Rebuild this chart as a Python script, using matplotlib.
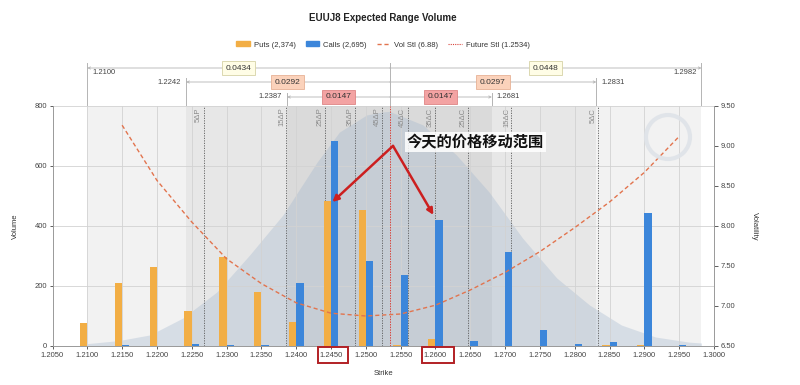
import numpy as np
import matplotlib.pyplot as plt
from matplotlib.lines import Line2D
from matplotlib.patches import Patch, Rectangle, Circle

plt.rcParams['font.family'] = ['Liberation Sans', 'DejaVu Sans']

# strikes and volumes
strikes = [1.2100, 1.2150, 1.2200, 1.2250, 1.2300, 1.2350, 1.2400, 1.2450, 1.2500,
           1.2550, 1.2600, 1.2650, 1.2700, 1.2750, 1.2800, 1.2850, 1.2900, 1.2950]
puts = [77, 209, 264, 117, 296, 179, 79, 484, 455, 3, 22, 0, 0, 0, 0, 2, 2, 0]
calls = [0, 5, 0, 6, 3, 5, 211, 683, 283, 237, 420, 16, 312, 53, 6, 15, 442, 3]
puts_total = 2374
calls_total = 2695

# settlement volatility per strike (right axis)
vol_strikes = strikes[1:]
vol_stl = [9.26, 8.57, 8.05, 7.59, 7.28, 7.04, 6.91, 6.875, 6.90, 7.01, 7.20,
           7.42, 7.68, 7.98, 8.30, 8.67, 9.12]
vol_stl_atm = 6.88

future_stl = 1.2534

# expected range distribution (shaded bell)
bell_x = [1.2100, 1.2145, 1.2190, 1.2237, 1.2286, 1.2333, 1.2381, 1.2430, 1.2462,
          1.2501, 1.2524, 1.2534, 1.2582, 1.2630, 1.2677, 1.2725, 1.2774, 1.2821,
          1.2867, 1.2916, 1.2964, 1.2982]
bell_y = [8, 18, 37, 93, 180, 303, 437, 613, 713, 770, 780, 782, 737, 637, 513,
          360, 227, 137, 70, 30, 13, 10]

# expected range bounds (3 levels)
range_low = [1.2100, 1.2242, 1.2387]
range_high = [1.2982, 1.2831, 1.2681]
range_down = ['0.0434', '0.0292', '0.0147']
range_up = ['0.0448', '0.0297', '0.0147']

# delta strikes
delta_x = [1.2267, 1.2386, 1.2442, 1.2485, 1.2523, 1.2560, 1.2599, 1.2646, 1.2709, 1.2833]
delta_lbl = ['5ΔP', '15ΔP', '25ΔP', '35ΔP', '45ΔP', '45ΔC', '35ΔC', '25ΔC', '15ΔC', '5ΔC']

put_col = '#F2AE45'
call_col = '#3C86DA'
vol_col = '#E2744E'
fut_col = '#D8443C'

fig = plt.figure(figsize=(8, 3.85), dpi=100)
L, W = 52.5 / 800, (714 - 52.5) / 800
ax = fig.add_axes([L, 39 / 385, W, 240 / 385])
ax.set_xlim(1.2050, 1.3000)
ax.set_ylim(0, 800)

# range bands
band_cols = ['#f2f2f2', '#e7e7e7', '#dadada']
for lo, hi, c in zip(range_low, range_high, band_cols):
    ax.axvspan(lo, hi, color=c, zorder=0, lw=0)

ax.fill_between(bell_x, 0, bell_y, color='#9db3cc', alpha=0.32, lw=0, zorder=1)

xticks = np.round(np.arange(1.2050, 1.30001, 0.005), 4)
for xt in xticks[1:-1]:
    ax.axvline(xt, color='#d2d2d2', lw=0.6, zorder=1.2)
for yt in [200, 400, 600, 800]:
    ax.axhline(yt, color='#d2d2d2', lw=0.6, zorder=1.2)

for dx, dl in zip(delta_x, delta_lbl):
    ax.axvline(dx, color='#5a5a5a', lw=0.6, ls=(0, (1.5, 1.5)), zorder=1.5)
    ax.text(dx - 0.0002, 0.993, dl, rotation=90, ha='right', va='top', fontsize=5.5,
            color='#8a8a8a', transform=ax.get_xaxis_transform(), zorder=2)
ax.axvline(future_stl, color=fut_col, lw=0.7, ls=(0, (1.5, 1.2)), zorder=1.6)

bw = 0.00105
ax.bar(np.array(strikes) - bw, puts, width=bw, align='edge', color=put_col, zorder=3)
ax.bar(strikes, calls, width=bw, align='edge', color=call_col, zorder=3)

ax.set_xticks(xticks)
ax.set_xticklabels([f'{v:.4f}' for v in xticks])
ax.set_yticks([0, 200, 400, 600, 800])
ax.tick_params(labelsize=5.5, colors='#444444', length=2, pad=2, width=0.6)
for s in ['top', 'right']:
    ax.spines[s].set_visible(False)
for s in ['left', 'bottom']:
    ax.spines[s].set_color('#999999')
    ax.spines[s].set_linewidth(0.7)
ax.set_xlabel('Strike', fontsize=5.5, color='#333333', labelpad=8)
ax.set_ylabel('Volume', fontsize=5.5, color='#333333', labelpad=11)

# highlighted strikes
for cx0, cx1 in [(1.2431, 1.2475), (1.2581, 1.2627)]:
    ax.add_patch(Rectangle((cx0, -0.071), cx1 - cx0, 0.067, fill=False, ec='#b22025', lw=1.4,
                           transform=ax.get_xaxis_transform(), clip_on=False, zorder=6))

# annotation arrows and text
apex = (1.2539, 667)
for tip in [(1.2452, 480), (1.2597, 437)]:
    ax.annotate('', xy=tip, xytext=apex,
                arrowprops=dict(arrowstyle='-|>', color='#cc1f1f', lw=1.8, mutation_scale=9,
                                shrinkA=0, shrinkB=0), zorder=7)
ax.text(1.2559, 680, '今天的价格移动范围', fontsize=11, fontweight='bold', color='#111111',
        family=['Noto Sans CJK SC', 'DejaVu Sans'], ha='left', va='center', zorder=7,
        bbox=dict(fc='white', ec='none', alpha=0.85, pad=1.2))

# right axis: volatility
ax2 = ax.twinx()
ax2.set_ylim(6.5, 9.5)
ax2.plot(vol_strikes, vol_stl, color=vol_col, lw=1.0, ls=(0, (3, 2)), zorder=4)
vticks = np.arange(6.5, 9.51, 0.5)
ax2.set_yticks(vticks)
ax2.set_yticklabels([f'{v:.2f}' for v in vticks])
ax2.tick_params(labelsize=5.5, colors='#444444', length=3, pad=2, width=0.6)
for s in ['top', 'left', 'bottom']:
    ax2.spines[s].set_visible(False)
ax2.spines['right'].set_color('#999999')
ax2.spines['right'].set_linewidth(0.7)
ax2.set_ylabel('Volatility', fontsize=5.5, color='#333333', rotation=270, labelpad=16)

# header with expected range brackets
hx = fig.add_axes([L, 279 / 385, W, 48 / 385])
hx.set_xlim(1.2050, 1.3000)
hx.set_ylim(106, 58)
hx.axis('off')
row_y = [68, 82, 97]
vtop = [63, 78, 93]
box_fc = ['#fffde6', '#fbd2bb', '#f3a3a3']
box_ec = ['#d6d2a6', '#e7b296', '#de8585']
gray = '#b4b4b4'
hx.plot([future_stl, future_stl], [63, 106], color=gray, lw=0.7)
for i in range(3):
    y = row_y[i]
    lo, hi = range_low[i], range_high[i]
    hx.plot([lo, lo], [vtop[i], 106], color=gray, lw=0.7)
    hx.plot([hi, hi], [vtop[i], 106], color=gray, lw=0.7)
    for end in (lo, hi):
        hx.annotate('', xy=(end, y), xytext=(future_stl, y),
                    arrowprops=dict(arrowstyle='->', color=gray, lw=0.6, mutation_scale=4,
                                    shrinkA=0, shrinkB=0))
    for txt, xm in [(range_down[i], (lo + future_stl) / 2), (range_up[i], (hi + future_stl) / 2)]:
        hx.text(xm, y, txt, ha='center', va='center', fontsize=6, color='#333333',
                bbox=dict(boxstyle='square,pad=0.45', fc=box_fc[i], ec=box_ec[i], lw=0.6))
    if i == 0:
        hx.text(lo + 0.0007, 73, f'{lo:.4f}', ha='left', va='center', fontsize=5.5, color='#444444')
        hx.text(hi - 0.0007, 73, f'{hi:.4f}', ha='right', va='center', fontsize=5.5, color='#444444')
    else:
        hx.text(lo - 0.0007, y, f'{lo:.4f}', ha='right', va='center', fontsize=5.5, color='#444444')
        hx.text(hi + 0.0007, y, f'{hi:.4f}', ha='left', va='center', fontsize=5.5, color='#444444')

fig.text(383 / 800, 1 - 18 / 385, 'EUUJ8 Expected Range Volume', ha='center', va='center',
         fontsize=7, fontweight='bold', color='#222222')

handles = [Patch(color=put_col), Patch(color=call_col),
           Line2D([], [], color=vol_col, lw=1.0, ls=(0, (3, 2))),
           Line2D([], [], color=fut_col, lw=0.8, ls=(0, (1, 1)))]
labels = [f'Puts ({puts_total:,})', f'Calls ({calls_total:,})', f'Vol Stl ({vol_stl_atm:.2f})',
          f'Future Stl ({future_stl:.4f})']
fig.legend(handles, labels, loc='center', bbox_to_anchor=(383 / 800, 1 - 45 / 385), ncol=4,
           frameon=False, fontsize=5.5, handlelength=1.8, handleheight=0.6,
           columnspacing=1.3, handletextpad=0.5, labelcolor='#333333')

# faint watermark ring
fig.add_artist(Circle((6.68, 2.48), 0.22, transform=fig.dpi_scale_trans, fill=False,
                      ec='#dfe3e8', lw=3, alpha=0.9))

fig.savefig('out.png', dpi=100)
